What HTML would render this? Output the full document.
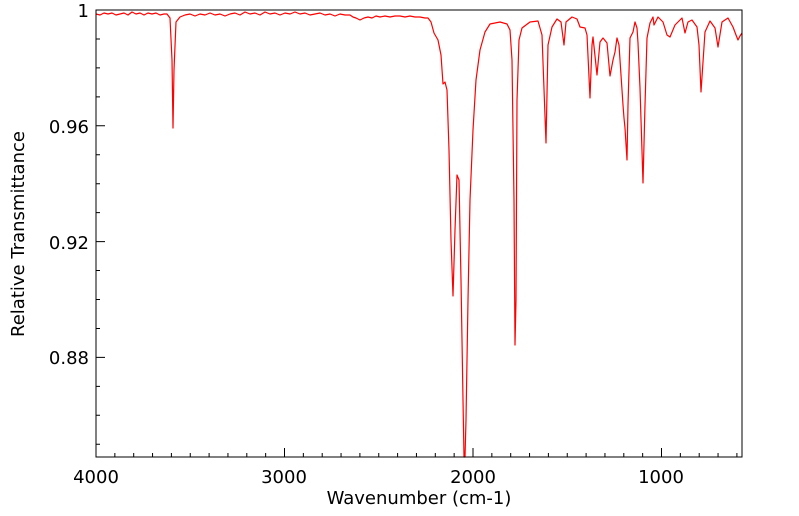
<!DOCTYPE html>
<html><head><style>body{margin:0;background:#fff}svg{display:block}</style></head><body>
<svg width="799" height="516" xmlns="http://www.w3.org/2000/svg" font-family="DejaVu Sans, sans-serif">
<rect width="799" height="516" fill="#fff"/>
<path stroke="#000" stroke-width="1" fill="none" d="
M96,457v-9 M114.85,457v-4 M133.7,457v-4 M152.55,457v-4 M171.4,457v-4 M190.25,457v-4 M209.1,457v-4 M227.95,457v-4 M246.8,457v-4 M265.65,457v-4
M284.5,457v-9 M303.35,457v-4 M322.2,457v-4 M341.05,457v-4 M359.9,457v-4 M378.75,457v-4 M397.6,457v-4 M416.45,457v-4 M435.3,457v-4 M454.15,457v-4
M473,457v-9 M491.85,457v-4 M510.7,457v-4 M529.55,457v-4 M548.4,457v-4 M567.25,457v-4 M586.1,457v-4 M604.95,457v-4 M623.8,457v-4 M642.65,457v-4
M661.5,457v-9 M680.35,457v-4 M699.2,457v-4 M718.05,457v-4 M736.9,457v-4
M96,10h9 M96,38.95h4 M96,67.9h4 M96,96.85h4 M96,125.8h9 M96,154.75h4 M96,183.7h4 M96,212.65h4 M96,241.6h9 M96,270.55h4 M96,299.5h4 M96,328.45h4 M96,357.4h9 M96,386.35h4 M96,415.3h4 M96,444.25h4"/>
<polyline fill="none" stroke="#ff0000" stroke-width="1.2" stroke-linejoin="round" points="
96,14 100,15 104,13 108,14 112,13 116,15 120,14 124,13 128,15 132,12 136,14 140,13 144,15 148,13 152,14 156,13 160,15 164,14 167,14 170,18 172,60 173,128 174,70 176,22 180,17 185,15 190,14 195,16 200,14 205,15 210,13 215,15 220,14 225,16 230,14 235,13 240,15 245,12 250,14 255,13 260,15 265,12 270,14 275,13 280,15 285,13 290,14 295,12 300,14 305,13 310,15 315,14 320,13 325,15 330,14 335,16 340,14 345,15 350,15 353,17 356,18 360,20 364,18 368,17 372,18 376,16 380,17 385,16 390,17 395,16 400,16 405,17 410,16 415,17 420,17 425,18 428,18 431,22 434,33 438,40 441,55 443,84 445,82 447,90 449,150 451,240 453,296 455,230 457,175 459,180 461,280 463,400 464,457 465,457 466,420 468,300 470,200 473,130 476,80 480,50 485,32 490,24 500,22 507,24 510,30 512,60 514,200 515,345 516,300 517,100 519,40 522,28 530,22 538,21 542,35 546,143 548,45 552,27 557,19 561,22 564,45 566,22 572,17 577,19 580,27 585,28 587,35 590,98 592,45 593,37 597,75 600,42 603,38 607,43 610,76 613,60 615,52 617,38 619,45 623,105 624,118 625,128 627,160 628,105 630,38 633,32 635,22 637,28 638,43 640,88 643,183 645,105 647,38 650,23 653,17 654,25 658,17 663,22 667,35 670,37 675,25 682,18 685,33 688,22 692,20 697,27 699,45 701,92 703,62 705,32 710,21 715,28 718,47 722,22 728,18 733,27 736,35 738,40 740,36 742,33"/>
<rect x="96" y="10" width="646" height="447" fill="none" stroke="#000" stroke-width="1"/>
<g font-size="18" fill="#000">
<text x="96" y="483" text-anchor="middle">4000</text>
<text x="284" y="483" text-anchor="middle">3000</text>
<text x="473" y="483" text-anchor="middle">2000</text>
<text x="661" y="483" text-anchor="middle">1000</text>
<text x="89" y="17" text-anchor="end">1</text>
<text x="89" y="133" text-anchor="end">0.96</text>
<text x="89" y="249" text-anchor="end">0.92</text>
<text x="89" y="364" text-anchor="end">0.88</text>
<text x="419" y="504" text-anchor="middle">Wavenumber (cm-1)</text>
<text transform="translate(24,234) rotate(-90)" text-anchor="middle">Relative Transmittance</text>
</g>
</svg>
</body></html>
